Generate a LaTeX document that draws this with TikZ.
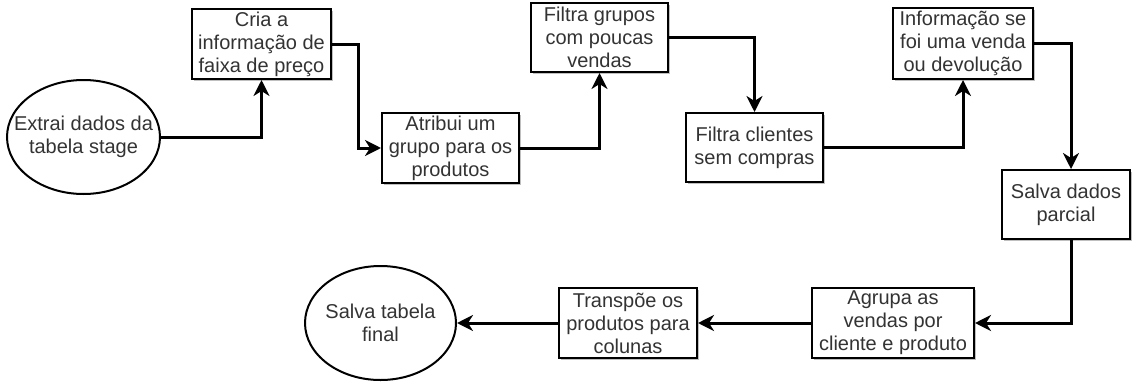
\documentclass[tikz,border=0pt]{standalone}
\usepackage{fontspec}
\setmainfont{Liberation Sans}
\usetikzlibrary{shapes,arrows.meta,shadows}

\begin{document}
\begin{tikzpicture}[x=1pt,y=-1pt,
		texto/.style={align=center,text=black!80,font=\fontsize{20}{23}\selectfont},
		passo/.style={draw,line width=2pt,fill=white,inner sep=0pt,texto,
			drop shadow={shadow xshift=2pt,shadow yshift=-2pt,opacity=0.25,fill=black}},
		borda/.style={draw,ellipse,line width=2pt,inner sep=0pt},
		fluxo/.style={line width=3pt,-{Stealth[length=16pt,width=16pt,inset=5pt]}}]
		\useasboundingbox (0,0) rectangle (1133,383);
		\node[borda,minimum width=153,minimum height=114,label={[texto]center:Extrai dados da\\tabela stage}] (extrai) at (83.5,137) {};
		\node[passo,minimum width=139,minimum height=70] (cria) at (261.5,44) {Cria a\\informação de\\faixa de preço};
		\node[passo,minimum width=137,minimum height=70] (atribui) at (450.5,148) {Atribui um\\grupo para os\\produtos};
		\node[passo,minimum width=137,minimum height=69] (grupos) at (599.5,37.5) {Filtra grupos\\com poucas\\vendas};
		\node[passo,minimum width=137,minimum height=69] (clientes) at (754.5,147.5) {Filtra clientes\\sem compras};
		\node[passo,minimum width=140,minimum height=71] (info) at (963,43.5) {Informação se\\foi uma venda\\ou devolução};
		\node[passo,minimum width=128,minimum height=69] (parcial) at (1066,204.5) {Salva dados\\parcial};
		\node[passo,minimum width=162,minimum height=70] (agrupa) at (893,323) {Agrupa as\\vendas por\\cliente e produto};
		\node[passo,minimum width=138,minimum height=70] (transp) at (628,323) {Transpõe os\\produtos para\\colunas};
		\node[borda,minimum width=151,minimum height=114,label={[texto]center:Salva tabela\\final}] (final) at (380.5,323) {};
		\draw[fluxo] (extrai.east) -| (cria.south);
		\draw[fluxo] (cria.east) -- ++(26,0) |- (atribui.west);
		\draw[fluxo] (atribui.east) -| (grupos.south);
		\draw[fluxo] (grupos.east) -| (clientes.north);
		\draw[fluxo] (clientes.east) -| (info.south);
		\draw[fluxo] (info.east) -| ([xshift=5pt]parcial.north);
		\draw[fluxo] ([xshift=5pt]parcial.south) |- (agrupa.east);
		\draw[fluxo] (agrupa.west) -- (transp.east);
		\draw[fluxo] (transp.west) -- (final.east);
	\end{tikzpicture}
\end{document}
